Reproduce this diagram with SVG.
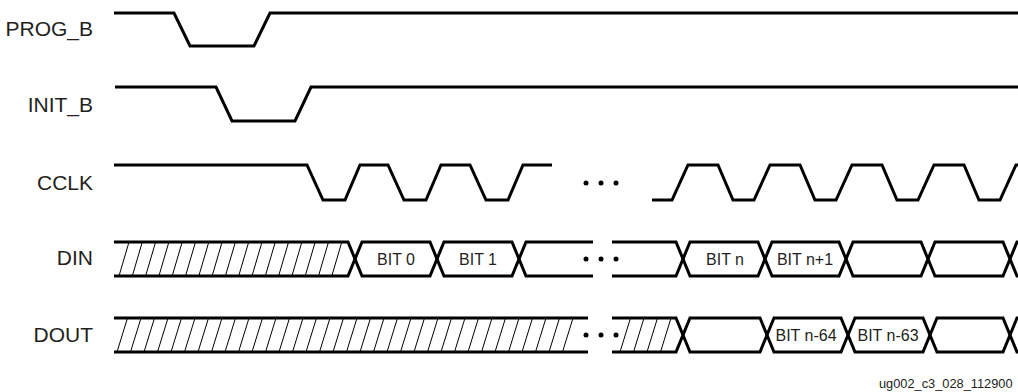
<svg xmlns="http://www.w3.org/2000/svg" width="1018" height="392" viewBox="0 0 1018 392">
<style>
.lbl{font-family:"Liberation Sans",Arial,sans-serif;font-size:21px;fill:#231f20;text-anchor:end}
.bit{font-family:"Liberation Sans",Arial,sans-serif;font-size:16px;fill:#231f20;text-anchor:middle}
.foot{font-family:"Liberation Sans",Arial,sans-serif;font-size:12.8px;fill:#231f20}
.w{fill:none;stroke:#000;stroke-width:3;stroke-linejoin:miter}
.h{fill:none;stroke:#000;stroke-width:1}
.dot{fill:#000}
</style>
<rect width="1018" height="392" fill="#fff"/>
<g id="labels">
<text class="lbl" x="93" y="36">PROG_B</text>
<text class="lbl" x="93" y="112">INIT_B</text>
<text class="lbl" x="93" y="190">CCLK</text>
<text class="lbl" x="93" y="265">DIN</text>
<text class="lbl" x="93" y="342">DOUT</text>
</g>
<g id="connectors">
<g id="prog_b">
<path class="w" d="M114,13 H174 L190,46 H254 L270,13 H1018"/>
</g>
<g id="init_b">
<path class="w" d="M115,87 H216 L232,121 H295 L311,87 H1018"/>
</g>
<g id="cclk">
<path class="w" d="M114,165 H307 L323,200 H345 L360,165 H388 L404,200 H426 L441,165 H470 L486,200 H508 L523,165 H552"/>
<path class="w" d="M652,200 H672 L688,165 H718 L733,200 H754 L770,165 H800 L815,200 H836 L852,165 H882 L897,200 H918 L934,165 H964 L979,200 H1000 L1016,165 H1020"/>
<circle class="dot" cx="586" cy="183" r="2.5"/>
<circle class="dot" cx="601" cy="183" r="2.5"/>
<circle class="dot" cx="616" cy="183" r="2.5"/>
</g>
<g id="din">
<path class="w" d="M114,242 H348 L362,276 H430 L444,242 H512 L526,276 H593"/>
<path class="w" d="M114,276 H348 L362,242 H430 L444,276 H512 L526,242 H593"/>
<path class="w" d="M612,242 H676 L690,276 H758 L772,242 H839 L853,276 H921 L935,242 H1003 L1017,276 H1020"/>
<path class="w" d="M612,276 H676 L690,242 H758 L772,276 H839 L853,242 H921 L935,276 H1003 L1017,242 H1020"/>
<path class="h" d="M119,276 l10,-34 M132.3,276 l10,-34 M145.6,276 l10,-34 M158.9,276 l10,-34 M172.2,276 l10,-34 M185.5,276 l10,-34 M198.8,276 l10,-34 M212.1,276 l10,-34 M225.4,276 l10,-34 M238.7,276 l10,-34 M252,276 l10,-34 M265.3,276 l10,-34 M278.6,276 l10,-34 M291.9,276 l10,-34 M305.2,276 l10,-34 M318.5,276 l10,-34 M331.8,276 l10,-34"/>
<circle class="dot" cx="586" cy="259" r="2.5"/>
<circle class="dot" cx="601" cy="259" r="2.5"/>
<circle class="dot" cx="616" cy="259" r="2.5"/>
</g>
<g id="dout">
<path class="w" d="M114,318 H588 M114,352 H588"/>
<path class="w" d="M612,318 H676 L690,352 H760 L774,318 H841 L855,352 H923 L937,318 H1003 L1017,352 H1020"/>
<path class="w" d="M612,352 H676 L690,318 H760 L774,352 H841 L855,318 H923 L937,352 H1003 L1017,318 H1020"/>
<path class="h" d="M117,352 l10.5,-34 M130.5,352 l10.5,-34 M144,352 l10.5,-34 M157.5,352 l10.5,-34 M171,352 l10.5,-34 M184.5,352 l10.5,-34 M198,352 l10.5,-34 M211.5,352 l10.5,-34 M225,352 l10.5,-34 M238.5,352 l10.5,-34 M252,352 l10.5,-34 M265.5,352 l10.5,-34 M279,352 l10.5,-34 M292.5,352 l10.5,-34 M306,352 l10.5,-34 M319.5,352 l10.5,-34 M333,352 l10.5,-34 M346.5,352 l10.5,-34 M360,352 l10.5,-34 M373.5,352 l10.5,-34 M387,352 l10.5,-34 M400.5,352 l10.5,-34 M414,352 l10.5,-34 M427.5,352 l10.5,-34 M441,352 l10.5,-34 M454.5,352 l10.5,-34 M468,352 l10.5,-34 M481.5,352 l10.5,-34 M495,352 l10.5,-34 M508.5,352 l10.5,-34 M522,352 l10.5,-34 M535.5,352 l10.5,-34 M549,352 l10.5,-34 M562.5,352 l10.5,-34 M620,352 l10.5,-34 M633.5,352 l10.5,-34 M647,352 l10.5,-34 M660.5,352 l10.5,-34"/>
<circle class="dot" cx="586" cy="335" r="2.5"/>
<circle class="dot" cx="601" cy="335" r="2.5"/>
<circle class="dot" cx="616" cy="335" r="2.5"/>
</g>
</g>
<g id="bits">
<text class="bit" x="396" y="265">BIT 0</text>
<text class="bit" x="478" y="265">BIT 1</text>
<text class="bit" x="725" y="265">BIT n</text>
<text class="bit" x="805" y="265">BIT n+1</text>
<text class="bit" x="806" y="341">BIT n-64</text>
<text class="bit" x="888" y="341">BIT n-63</text>
</g>
<text class="foot" x="879" y="388">ug002_c3_028_112900</text>
</svg>
